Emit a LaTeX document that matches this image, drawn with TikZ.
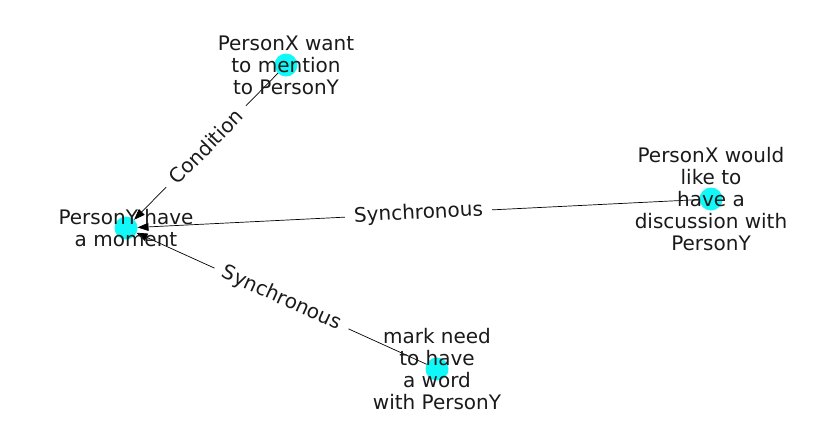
\documentclass[tikz,border=0pt]{standalone}
\usepackage{fontspec}
\setmainfont{DejaVu Sans}
\usetikzlibrary{arrows.meta}
\definecolor{nodecyan}{RGB}{16,248,248}
\definecolor{txt}{RGB}{26,26,26}
\begin{document}
\begin{tikzpicture}[x=1pt,y=-1pt,
  nd/.style={circle,fill=nodecyan,minimum size=23pt,inner sep=0pt,outer sep=0pt},
  lbl/.style={align=center,font=\fontsize{20}{22}\selectfont,text=txt,inner sep=0pt},
  el/.style={font=\fontsize{20}{22}\selectfont,text=txt,fill=white,inner xsep=9pt,inner ysep=4pt,sloped},
  edge/.style={-{Triangle[length=11pt,width=8pt]},line width=0.7pt,black}]
\useasboundingbox (0,0) rectangle (837,434);
\node[nd] (a) at (126,228) {};
\node[nd] (b) at (286,65) {};
\node[nd] (c) at (711,199) {};
\node[nd] (d) at (437,369) {};
\draw[edge] (b) -- node[el] (e1) {Condition} (a);
\draw[edge] (c) -- node[el] (e2) {Synchronous} (a);
\draw[edge] (d) -- node[el] (e3) {Synchronous} (a);
\node[lbl] (ta) at (126,228) {PersonY have\\a moment};
\node[lbl] (tb) at (286,65) {PersonX want\\to mention\\to PersonY};
\node[lbl] (tc) at (711,199) {PersonX would\\like to\\have a\\discussion with\\PersonY};
\node[lbl] (td) at (437,369) {mark need\\to have\\a word\\with PersonY};
\end{tikzpicture}
\end{document}
